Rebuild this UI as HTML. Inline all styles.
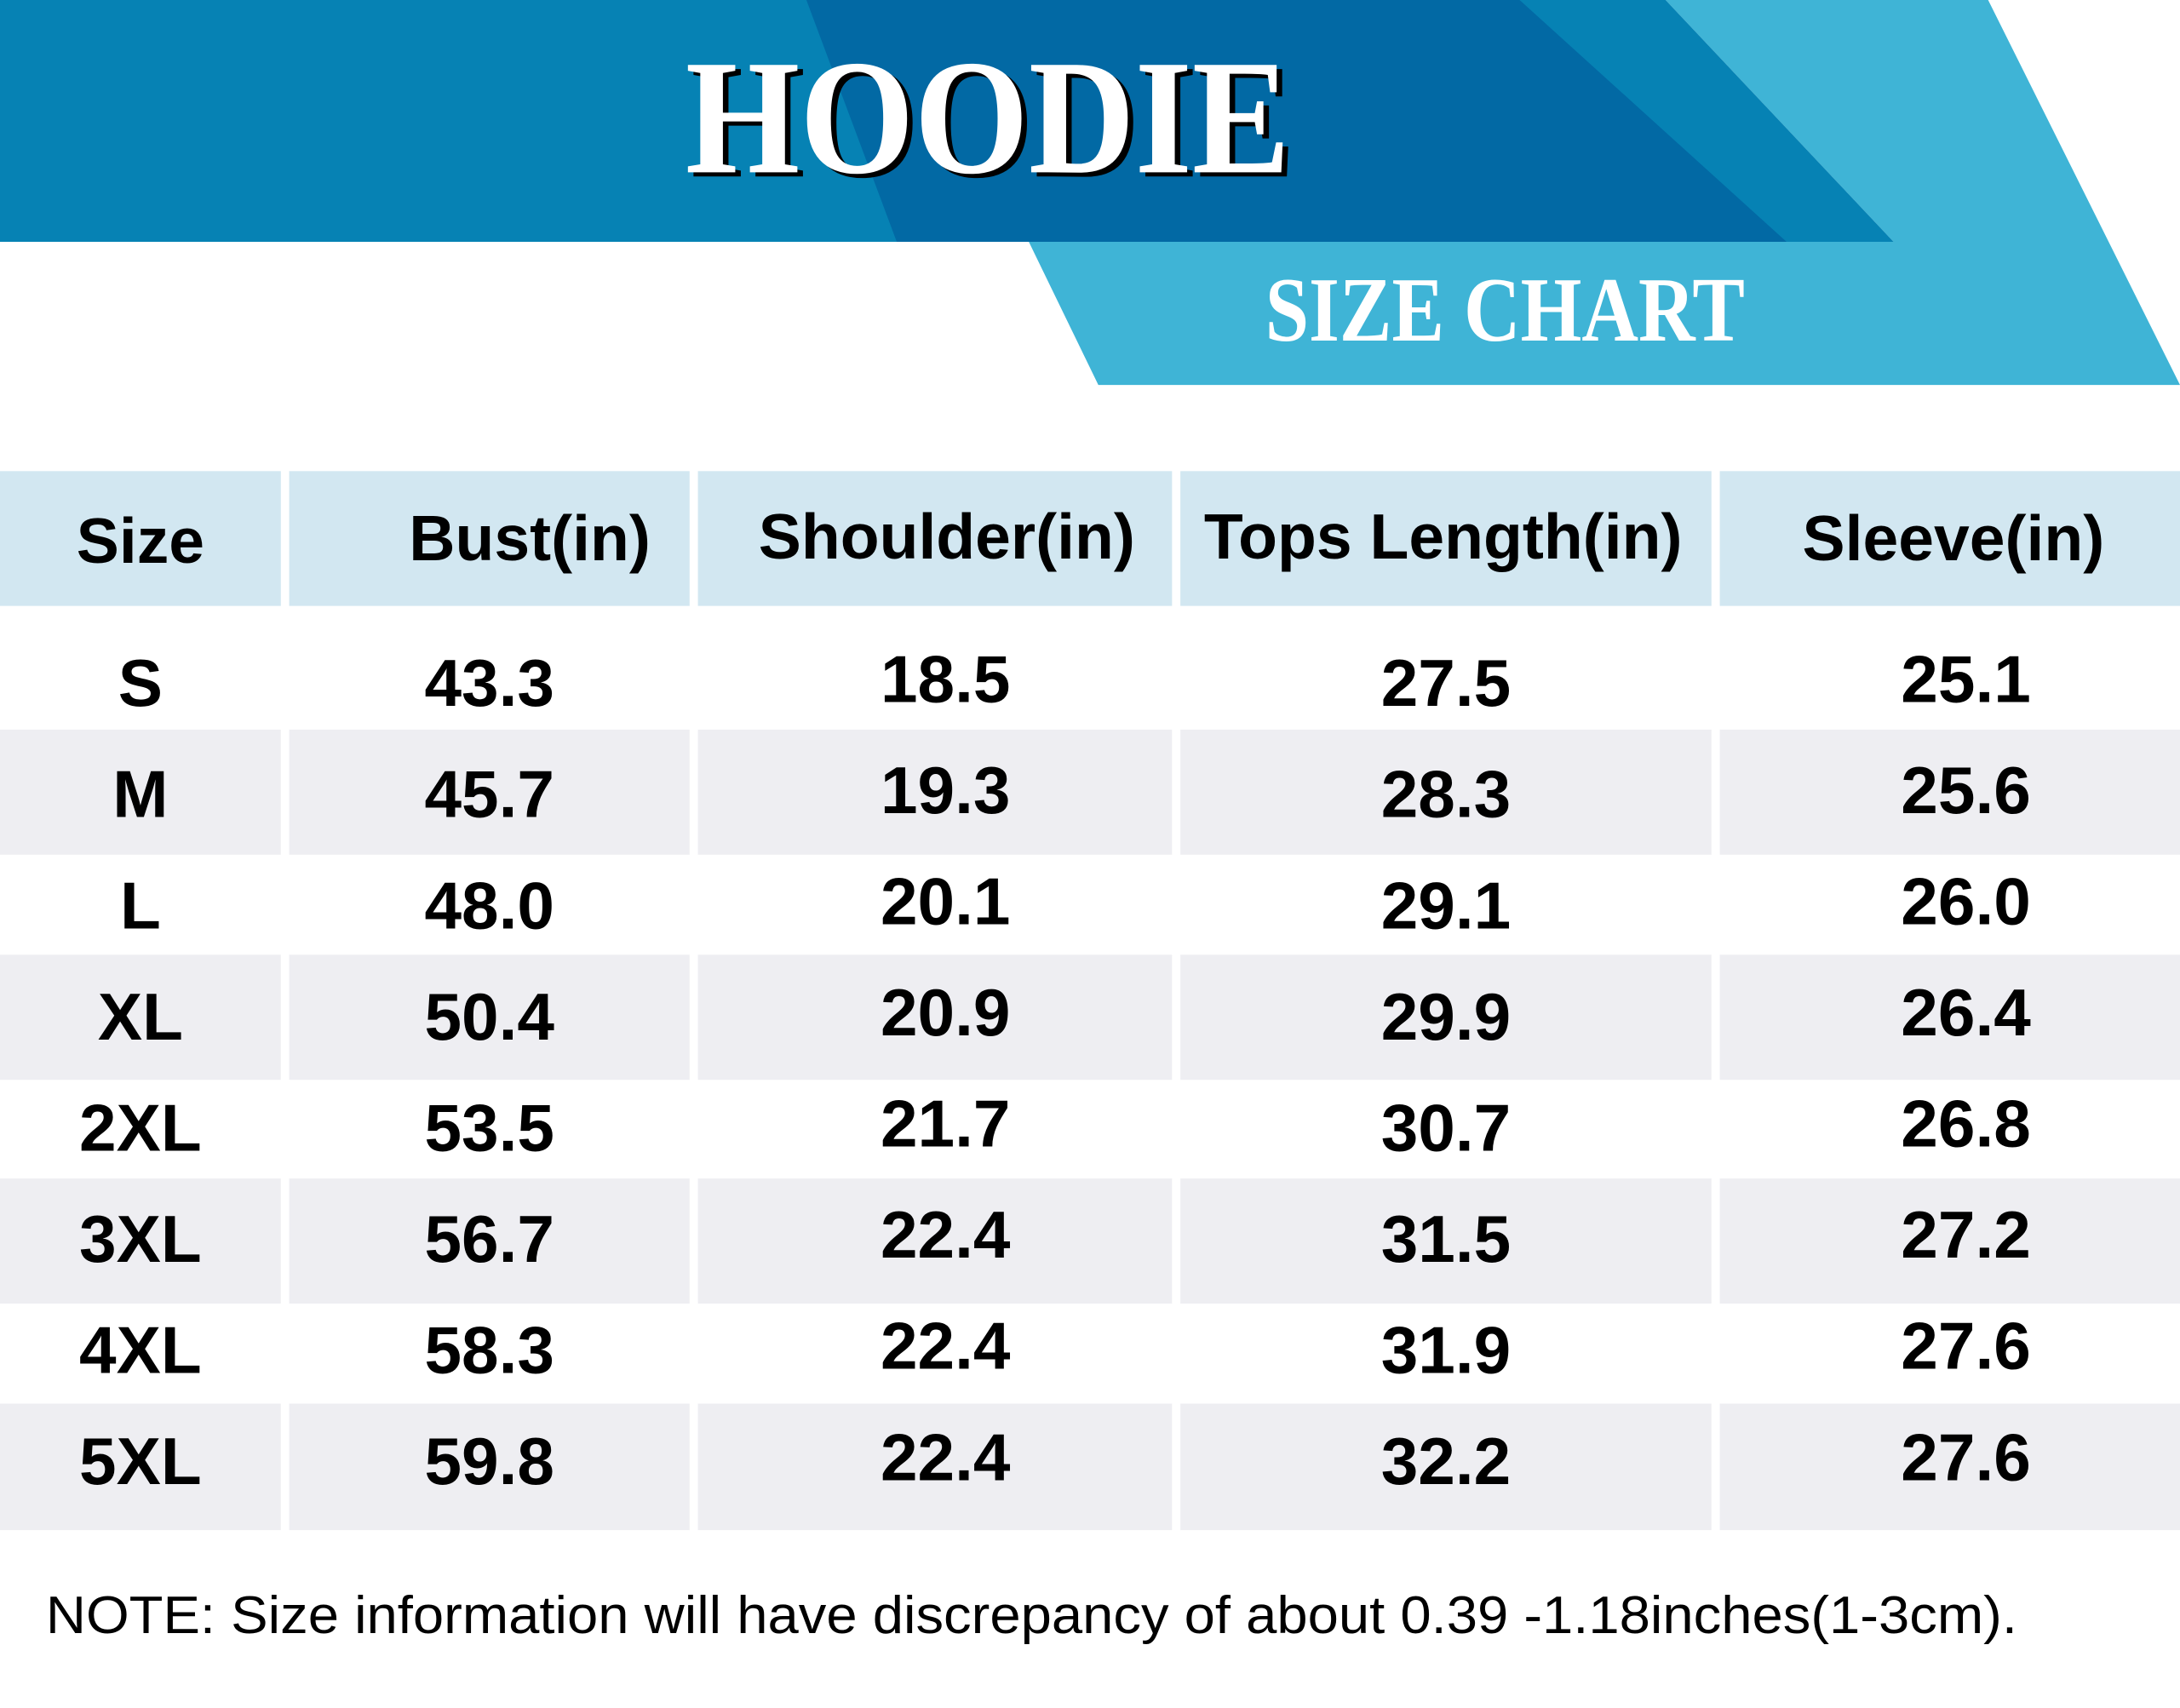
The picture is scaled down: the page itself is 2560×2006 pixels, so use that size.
<!DOCTYPE html>
<html><head><meta charset="utf-8"><style>html,body{margin:0;padding:0;background:#fff}svg{display:block}</style></head>
<body>
<svg width="2560" height="2006" viewBox="0 0 1568 1229" preserveAspectRatio="none" xmlns="http://www.w3.org/2000/svg">
<rect width="1568" height="1229" fill="#fff"/>
<polygon points="1198,0 1430,0 1568,277 790,277 740,174 1362,174" fill="#3fb4d6"/>
<polygon points="0,0 1198,0 1362,174 0,174" fill="#0682b4"/>
<polygon points="580,0 1093,0 1285,174 645,174" fill="#0269a4"/>
<g font-family="Liberation Serif, serif" font-weight="bold">
<text x="497" y="127" font-size="118" fill="#000" textLength="435" lengthAdjust="spacingAndGlyphs">HOODIE</text>
<text x="493" y="124" font-size="118" fill="#fff" textLength="435" lengthAdjust="spacingAndGlyphs">HOODIE</text>
<text x="910" y="245" font-size="66" fill="#fff" textLength="345" lengthAdjust="spacingAndGlyphs">SIZE CHART</text>
</g>
<g fill="#d2e7f1">
<rect x="0" y="339" width="202" height="97"/><rect x="208" y="339" width="288" height="97"/><rect x="502" y="339" width="341" height="97"/><rect x="849" y="339" width="382" height="97"/><rect x="1237" y="339" width="331" height="97"/>
</g>
<g fill="#eeeef2">
<rect x="0" y="525" width="202" height="90"/><rect x="208" y="525" width="288" height="90"/><rect x="502" y="525" width="341" height="90"/><rect x="849" y="525" width="382" height="90"/><rect x="1237" y="525" width="331" height="90"/>
<rect x="0" y="687" width="202" height="90"/><rect x="208" y="687" width="288" height="90"/><rect x="502" y="687" width="341" height="90"/><rect x="849" y="687" width="382" height="90"/><rect x="1237" y="687" width="331" height="90"/>
<rect x="0" y="848" width="202" height="90"/><rect x="208" y="848" width="288" height="90"/><rect x="502" y="848" width="341" height="90"/><rect x="849" y="848" width="382" height="90"/><rect x="1237" y="848" width="331" height="90"/>
<rect x="0" y="1010" width="202" height="91"/><rect x="208" y="1010" width="288" height="91"/><rect x="502" y="1010" width="341" height="91"/><rect x="849" y="1010" width="382" height="91"/><rect x="1237" y="1010" width="331" height="91"/>
</g>
<g font-family="Liberation Sans, sans-serif" font-weight="bold" font-size="46" fill="#000" text-anchor="middle">
<text x="101" y="405">Size</text>
<text x="381" y="403">Bust(in)</text>
<text x="681" y="402">Shoulder(in)</text>
<text x="1038" y="402">Tops Length(in)</text>
<text x="1405" y="403">Sleeve(in)</text>
</g>
<g font-family="Liberation Sans, sans-serif" font-weight="bold" font-size="48" fill="#000" text-anchor="middle">
<text x="101" y="508">S</text><text x="352" y="508">43.3</text><text x="680" y="505">18.5</text><text x="1040" y="508">27.5</text><text x="1414" y="505">25.1</text>
<text x="101" y="588">M</text><text x="352" y="588">45.7</text><text x="680" y="585">19.3</text><text x="1040" y="588">28.3</text><text x="1414" y="585">25.6</text>
<text x="101" y="668">L</text><text x="352" y="668">48.0</text><text x="680" y="665">20.1</text><text x="1040" y="668">29.1</text><text x="1414" y="665">26.0</text>
<text x="101" y="748">XL</text><text x="352" y="748">50.4</text><text x="680" y="745">20.9</text><text x="1040" y="748">29.9</text><text x="1414" y="745">26.4</text>
<text x="101" y="828">2XL</text><text x="352" y="828">53.5</text><text x="680" y="825">21.7</text><text x="1040" y="828">30.7</text><text x="1414" y="825">26.8</text>
<text x="101" y="908">3XL</text><text x="352" y="908">56.7</text><text x="680" y="905">22.4</text><text x="1040" y="908">31.5</text><text x="1414" y="905">27.2</text>
<text x="101" y="988">4XL</text><text x="352" y="988">58.3</text><text x="680" y="985">22.4</text><text x="1040" y="988">31.9</text><text x="1414" y="985">27.6</text>
<text x="101" y="1068">5XL</text><text x="352" y="1068">59.8</text><text x="680" y="1065">22.4</text><text x="1040" y="1068">32.2</text><text x="1414" y="1065">27.6</text>
</g>
<text x="33" y="1175" font-family="Liberation Sans, sans-serif" font-size="38" fill="#000" textLength="1418" lengthAdjust="spacingAndGlyphs">NOTE: Size information will have discrepancy of about 0.39 -1.18inches(1-3cm).</text>
</svg>
</body></html>
